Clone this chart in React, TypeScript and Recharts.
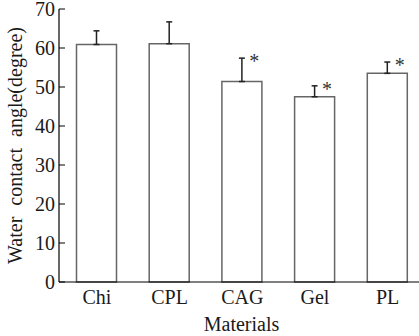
import React from 'react'
import { Bar, ComposedChart, ErrorBar, LabelList, Line, XAxis, YAxis } from 'recharts'

const materials = ['Chi', 'CPL', 'CAG', 'Gel', 'PL']
const angles = [60.9, 61.1, 51.4, 47.5, 53.5]
const errors = [3.5, 5.6, 6.0, 2.8, 2.9]
const significant = [false, false, true, true, true]
const yTicks = [0, 10, 20, 30, 40, 50, 60, 70]

const data = materials.map((name, i) => ({
  name,
  angle: angles[i],
  err: [0, errors[i]],
  sigTop: significant[i] ? angles[i] + errors[i] : null,
}))

const FONT = '"Liberation Serif", "Times New Roman", serif'
const INK = '#1a1a1a'

function YTick(props: any) {
  const { x, y, payload } = props
  return (
    <g>
      <line x1={x + 4} x2={x + 10} y1={y} y2={y} stroke="#000" strokeWidth={1} />
      <text x={x} y={y} dy={7} textAnchor="end" fontFamily={FONT} fontSize={20} fill={INK}>
        {payload.value}
      </text>
    </g>
  )
}

function Star(props: any) {
  const { x, y, value } = props
  if (value == null) return null
  return (
    <text x={x + 12} y={y + 10} textAnchor="middle" fontFamily={FONT} fontSize={20} fill="#333">
      *
    </text>
  )
}

export default function App() {
  return (
    <div style={{ position: 'absolute', left: 0, top: 0, width: 419, height: 336, overflow: 'hidden', background: '#fff' }}>
      <ComposedChart width={429} height={336} data={data} margin={{ top: 9, right: 5, left: 0, bottom: 0 }}>
        <XAxis
          dataKey="name"
          height={54}
          padding={{ left: 1.5, right: 0 }}
          tickLine={false}
          axisLine={{ stroke: '#000', strokeWidth: 1.2 }}
          tick={{ fontFamily: FONT, fontSize: 20, fill: INK }}
          tickMargin={2}
          label={{ value: 'Materials', position: 'insideBottom', offset: 5, style: { fontFamily: FONT, fontSize: 20, fill: INK } }}
        />
        <YAxis
          type="number"
          domain={[0, 70]}
          ticks={yTicks}
          width={59}
          tickLine={false}
          tickSize={0}
          tickMargin={4}
          axisLine={{ stroke: '#000', strokeWidth: 1.2 }}
          tick={<YTick />}
          label={{
            value: 'Water contact angle(degree)',
            angle: -90,
            position: 'insideLeft',
            offset: 15,
            style: { textAnchor: 'middle', fontFamily: FONT, fontSize: 20, fill: INK, wordSpacing: 6 },
          }}
        />
        <Bar dataKey="angle" barSize={40} fill="#fff" stroke="#666" strokeWidth={1.5} isAnimationActive={false}>
          <ErrorBar dataKey="err" width={3} stroke="#222" strokeWidth={1.5} direction="y" />
        </Bar>
        <Line dataKey="sigTop" stroke="none" dot={false} activeDot={false} isAnimationActive={false}>
          <LabelList dataKey="sigTop" content={<Star />} />
        </Line>
      </ComposedChart>
    </div>
  )
}
